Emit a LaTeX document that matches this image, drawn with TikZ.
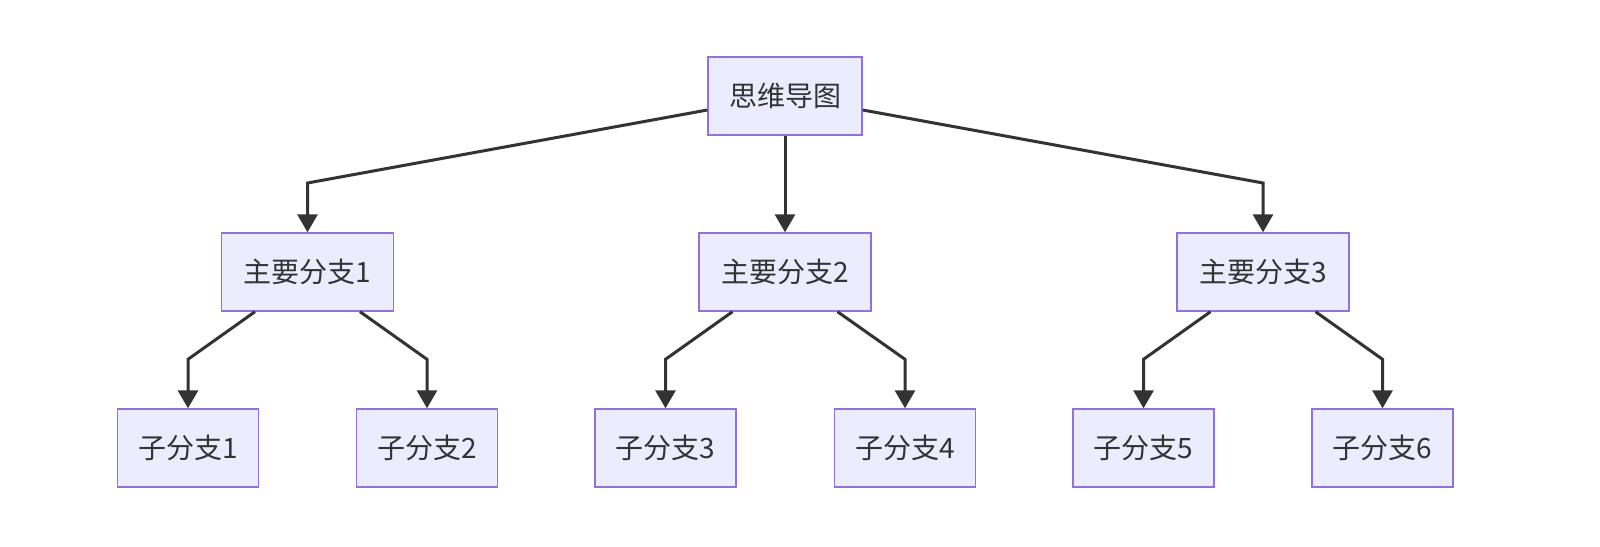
\documentclass[tikz,border=0pt]{standalone}
\usepackage{fontspec}
\setmainfont{Noto Sans CJK SC}
\usetikzlibrary{arrows.meta,calc}
\definecolor{nodefill}{HTML}{ECECFF}
\definecolor{nodedraw}{HTML}{9370DB}
\definecolor{edge}{HTML}{333333}
\begin{document}
\begin{tikzpicture}[x=0.5pt,y=-0.5pt,
  box/.style={draw=nodedraw,fill=nodefill,line width=0.7pt,minimum height=39pt,inner sep=0pt,font=\fontsize{14pt}{16pt}\selectfont,text=edge},
  main/.style={box,minimum width=86pt},
  leaf/.style={box,minimum width=70.5pt},
  root/.style={box,minimum width=77pt},
  conn/.style={draw=edge,line width=1.5pt,-{Triangle[width=10pt,length=9pt]}}]
\node[root] (r) at (785,96) {思维导图};
\node[main] (m1) at (307.5,272) {主要分支1};
\node[main] (m2) at (785,272) {主要分支2};
\node[main] (m3) at (1263,272) {主要分支3};
\node[leaf] (l1) at (188,448) {子分支1};
\node[leaf] (l2) at (427,448) {子分支2};
\node[leaf] (l3) at (665.5,448) {子分支3};
\node[leaf] (l4) at (905,448) {子分支4};
\node[leaf] (l5) at (1143.5,448) {子分支5};
\node[leaf] (l6) at (1382.5,448) {子分支6};
\coordinate (b1) at (307.5,183);
\coordinate (b3) at (1263,183);
\draw[conn] ($(r.west)+(0,14)$) -- (b1) -- (m1.north);
\draw[conn] (r.south) -- (m2.north);
\draw[conn] ($(r.east)+(0,14)$) -- (b3) -- (m3.north);
\foreach \m/\p/\q in {m1/l1/l2,m2/l3/l4,m3/l5/l6}{
  \coordinate (ca) at ($(\p.north)+(0,-49)$);
  \coordinate (cb) at ($(\q.north)+(0,-49)$);
  \draw[conn] ($(\m.south)+(-52.5,0)$) -- (ca) -- (\p.north);
  \draw[conn] ($(\m.south)+(52.5,0)$) -- (cb) -- (\q.north);
}
\pgfresetboundingbox
\useasboundingbox (0,0) rectangle (1600,546);
\end{tikzpicture}
\end{document}
